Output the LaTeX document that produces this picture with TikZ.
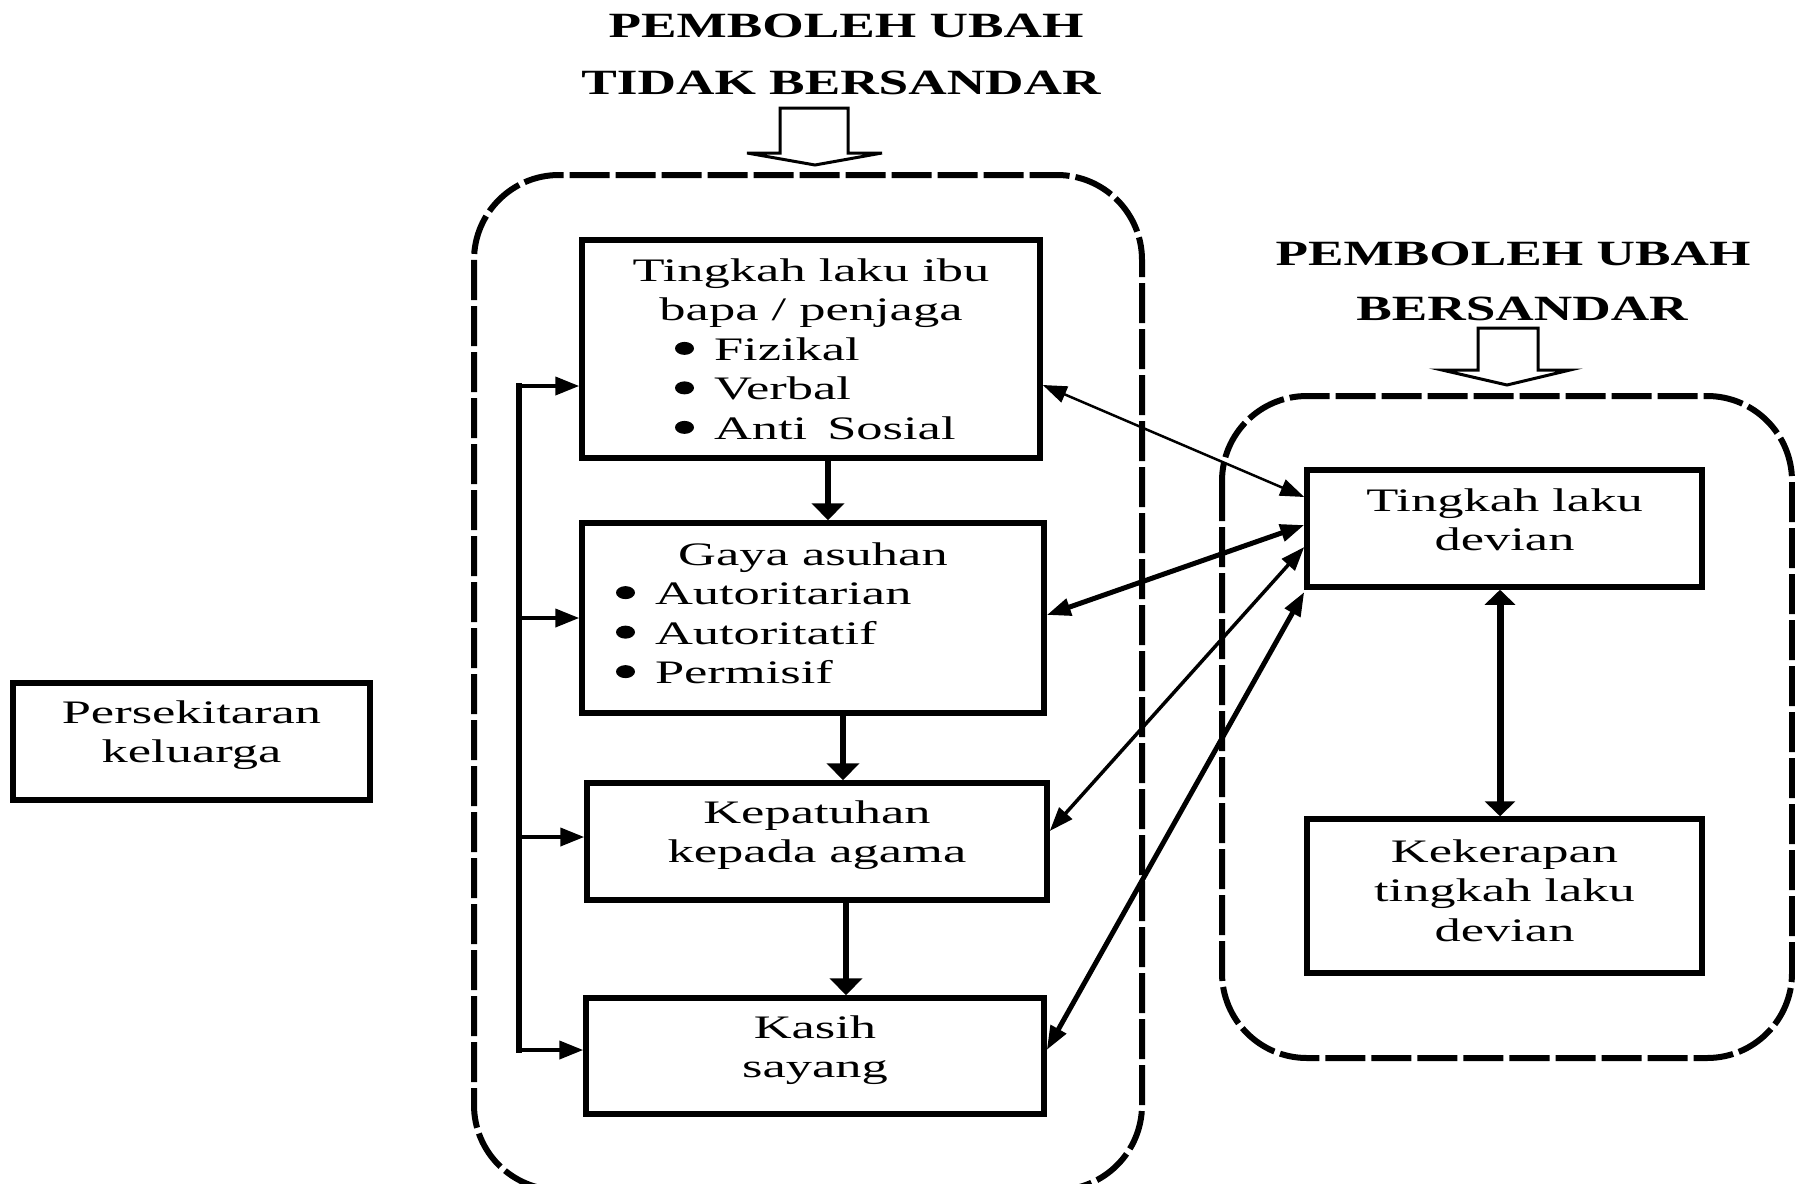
\documentclass[tikz,border=0pt]{standalone}
\usepackage{fontspec}
\setmainfont{Liberation Serif}[FakeStretch=1.6]
\newfontfamily\titlefont{Liberation Serif}[FakeStretch=1.5]
\usetikzlibrary{arrows.meta}
\newcommand{\bulitem}[1]{\tikz[baseline=0pt]\fill (9.5pt,12pt) ellipse [x radius=9.5pt, y radius=6.5pt];\hspace{20pt}#1}
\begin{document}
\begin{tikzpicture}[x=1pt,y=-1pt,
  boxnode/.style={draw, line width=5.5pt, inner sep=0pt, align=center,
    font=\fontsize{32.8}{39.5}\selectfont},
  dashgroup/.style={draw, line width=6pt, dash pattern=on 40pt off 6pt, rounded corners=85pt},
  ttl/.style={font=\titlefont\bfseries\fontsize{35.5}{40}\selectfont, anchor=base, inner sep=0pt},
  hollow/.style={draw, line width=3pt, line join=miter},
  flow/.style={line width=6pt, -{Triangle[length=17pt,width=32pt]}},
  fbline/.style={line width=6pt, line cap=rect},
  fbarrow/.style={line width=4pt, -{Triangle[length=24pt,width=18pt]}},
  linkarrow/.style={{Triangle[length=24pt,width=17pt]}-{Triangle[length=24pt,width=17pt]}},
  linkthin/.style={linkarrow, line width=2.5pt},
  linkmid/.style={linkarrow, line width=3.5pt},
  linkthick/.style={linkarrow, line width=5pt},
  linkv/.style={line width=7pt, {Triangle[length=15pt,width=30pt]}-{Triangle[length=15pt,width=30pt]}}]

\useasboundingbox (0,0) rectangle (1795,1183);
\fill[white] (0,0) rectangle (1795,1183);

% titles
\node[ttl] (tl1) at (846,37) {PEMBOLEH UBAH};
\node[ttl] (tl2) at (841,94) {TIDAK BERSANDAR};
\node[ttl] (tr1) at (1513,265) {PEMBOLEH UBAH};
\node[ttl] (tr2) at (1522,320) {BERSANDAR};

% hollow arrows
\draw[hollow] (780,153) -- (780,108) -- (848,108) -- (848,153) -- (882,153) -- (815,165) -- (747,153) -- cycle;
\draw[hollow] (1478,370) -- (1478,328) -- (1538,328) -- (1538,370) -- (1570,370) -- (1507,385) -- (1442,370) -- cycle;

% dashed groups
\draw[dashgroup] (474,175) rectangle (1142,1190);
\draw[dashgroup] (1222,396) rectangle (1792,1058);

% boxes
\node[boxnode, minimum width=458pt, minimum height=218pt, text depth=0pt] (box1) at (811,349)
  {Tingkah laku ibu\\ bapa / penjaga\\
   \makebox[272pt][l]{\bulitem{Fizikal}}\\
   \makebox[272pt][l]{\bulitem{Verbal}}\\
   \makebox[272pt][l]{\bulitem{Anti\hspace{20pt}Sosial}}};
\node[boxnode, minimum width=462pt, minimum height=190pt, text depth=10pt] (box2) at (813,618)
  {Gaya asuhan\\
   \makebox[394pt][l]{\bulitem{Autoritarian}}\\
   \makebox[394pt][l]{\bulitem{Autoritatif}}\\
   \makebox[394pt][l]{\bulitem{Permisif}}};
\node[boxnode, minimum width=460pt, minimum height=117pt, text depth=20pt] (box3) at (817,841.5)
  {Kepatuhan\\ kepada agama};
\node[boxnode, minimum width=458pt, minimum height=116pt, text depth=19pt] (box4) at (815,1056)
  {Kasih\\ sayang};
\node[boxnode, minimum width=357pt, minimum height=117pt, text depth=20pt] (env) at (191.5,741.5)
  {Persekitaran\\ keluarga};
\node[boxnode, minimum width=395pt, minimum height=117pt, text depth=18pt] (box5) at (1504.5,528.5)
  {Tingkah laku\\ devian};
\node[boxnode, minimum width=395pt, minimum height=154pt, text depth=11pt] (box6) at (1504.5,896)
  {Kekerapan\\ tingkah laku\\ devian};

% downward flow
\draw[flow] (box1.south -| 828,0) -- (box2.north -| 828,0);
\draw[flow] (box2.south -| 843,0) -- (box3.north -| 843,0);
\draw[flow] (box3.south -| 846,0) -- (box4.north -| 846,0);

% feedback line
\coordinate (fb1) at (519,386);
\coordinate (fb2) at (519,618);
\coordinate (fb3) at (519,837);
\coordinate (fb4) at (519,1050);
\draw[fbline] (fb1) -- (fb4);
\draw[fbarrow] (fb1) -- (box1.west |- fb1);
\draw[fbarrow] (fb2) -- (box2.west |- fb2);
\draw[fbarrow] (fb3) -- (box3.west |- fb3);
\draw[fbarrow] (fb4) -- (box4.west |- fb4);

% links to dependent variable
\draw[linkthin] (box1.east |- 0,385) -- (box5.west |- 0,497);
\draw[linkthick] (box2.east |- 0,615) -- (box5.west |- 0,525);
\draw[linkmid] (box3.east |- 0,831) -- (box5.west |- 0,547);
\draw[linkthick] (box4.east |- 0,1050) -- (box5.west |- 0,592);
\draw[linkv] (box5.south -| 1500,0) -- (box6.north -| 1500,0);
\end{tikzpicture}
\end{document}
